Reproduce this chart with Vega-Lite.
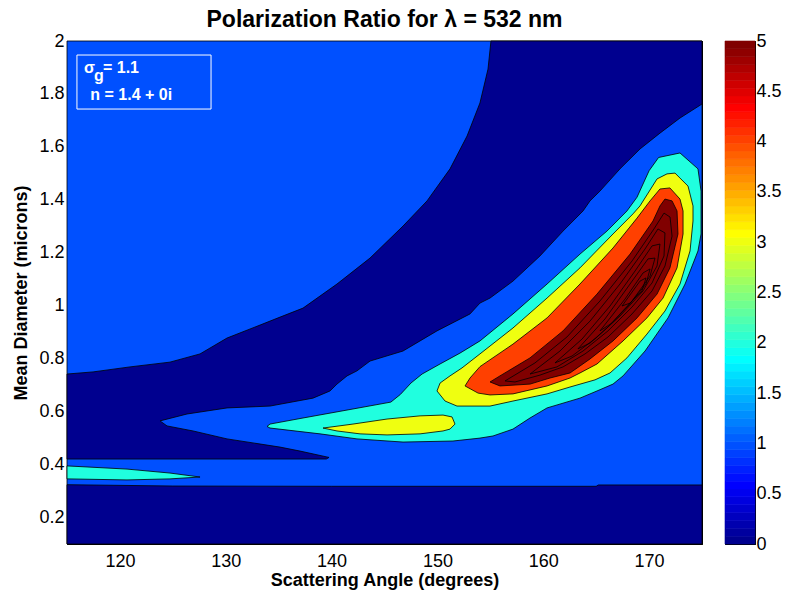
{
  "$schema": "https://vega.github.io/schema/vega-lite/v6.json",
  "background": "white",
  "padding": {"left": 12, "top": 8, "right": 0, "bottom": 0},
  "config": {
    "view": {"stroke": "black", "strokeWidth": 1},
    "font": "Liberation Sans",
    "axis": {
      "grid": false, "domainColor": "black", "tickColor": "black", "labelColor": "black", "titleColor": "black",
      "labelFont": "Liberation Sans", "titleFont": "Liberation Sans", "labelFontSize": 18, "titleFontSize": 18,
      "titleFontWeight": "bold", "tickSize": -6, "tickWidth": 1, "domainWidth": 1, "labelOverlap": false, "minExtent": 0
    }
  },
  "datasets": {
    "contours": [
      {"p":"bg","k":0,"a":115,"d":0.1,"lev":1},{"p":"bg","k":1,"a":175,"d":0.1,"lev":1},{"p":"bg","k":2,"a":175,"d":2,"lev":1},{"p":"bg","k":3,"a":115,"d":2,"lev":1},

      {"p":"nb","k":0,"a":115,"d":0.1,"lev":0},{"p":"nb","k":1,"a":175,"d":0.1,"lev":0},{"p":"nb","k":2,"a":175,"d":0.323,"lev":0},{"p":"nb","k":3,"a":165.2,"d":0.323,"lev":0},{"p":"nb","k":4,"a":165.0,"d":0.318,"lev":0},{"p":"nb","k":5,"a":140,"d":0.318,"lev":0},{"p":"nb","k":6,"a":125,"d":0.319,"lev":0},{"p":"nb","k":7,"a":115,"d":0.324,"lev":0},

      {"p":"nv","k":0,"a":115,"d":0.742,"lev":0},{"p":"nv","k":1,"a":117.46,"d":0.75,"lev":0},{"p":"nv","k":2,"a":120.95,"d":0.769,"lev":0},{"p":"nv","k":3,"a":124.73,"d":0.787,"lev":0},{"p":"nv","k":4,"a":127.57,"d":0.818,"lev":0},{"p":"nv","k":5,"a":130.12,"d":0.878,"lev":0},{"p":"nv","k":6,"a":133.24,"d":0.927,"lev":0},{"p":"nv","k":7,"a":135.13,"d":0.957,"lev":0},{"p":"nv","k":8,"a":137.3,"d":0.991,"lev":0},{"p":"nv","k":9,"a":140.51,"d":1.082,"lev":0},{"p":"nv","k":10,"a":143.63,"d":1.18,"lev":0},{"p":"nv","k":11,"a":146.75,"d":1.301,"lev":0},{"p":"nv","k":12,"a":149.02,"d":1.396,"lev":0},{"p":"nv","k":13,"a":151.19,"d":1.517,"lev":0},{"p":"nv","k":14,"a":152.8,"d":1.641,"lev":0},{"p":"nv","k":15,"a":154.02,"d":1.766,"lev":0},{"p":"nv","k":16,"a":154.78,"d":1.894,"lev":0},{"p":"nv","k":17,"a":155.06,"d":2.0,"lev":0},{"p":"nv","k":18,"a":175,"d":2.0,"lev":0},{"p":"nv","k":19,"a":175,"d":1.762,"lev":0},{"p":"nv","k":20,"a":172.92,"d":1.709,"lev":0},{"p":"nv","k":21,"a":171.03,"d":1.652,"lev":0},{"p":"nv","k":22,"a":169.14,"d":1.592,"lev":0},{"p":"nv","k":23,"a":167.25,"d":1.517,"lev":0},{"p":"nv","k":24,"a":165.36,"d":1.433,"lev":0},{"p":"nv","k":25,"a":164.42,"d":1.396,"lev":0},{"p":"nv","k":26,"a":163.76,"d":1.358,"lev":0},{"p":"nv","k":27,"a":161.87,"d":1.282,"lev":0},{"p":"nv","k":28,"a":159.69,"d":1.188,"lev":0},{"p":"nv","k":29,"a":157.14,"d":1.093,"lev":0},{"p":"nv","k":30,"a":154.97,"d":1.029,"lev":0},{"p":"nv","k":31,"a":154.02,"d":1.01,"lev":0},{"p":"nv","k":32,"a":153.08,"d":0.969,"lev":0},{"p":"nv","k":33,"a":149.96,"d":0.905,"lev":0},{"p":"nv","k":34,"a":146.75,"d":0.829,"lev":0},{"p":"nv","k":35,"a":143.63,"d":0.791,"lev":0},{"p":"nv","k":36,"a":142.4,"d":0.754,"lev":0},{"p":"nv","k":37,"a":141.46,"d":0.735,"lev":0},{"p":"nv","k":38,"a":140.51,"d":0.704,"lev":0},{"p":"nv","k":39,"a":139.85,"d":0.678,"lev":0},{"p":"nv","k":40,"a":138.24,"d":0.651,"lev":0},{"p":"nv","k":41,"a":134.18,"d":0.621,"lev":0},{"p":"nv","k":42,"a":130.12,"d":0.614,"lev":0},{"p":"nv","k":43,"a":126.34,"d":0.591,"lev":0},{"p":"nv","k":44,"a":123.79,"d":0.565,"lev":0},{"p":"nv","k":45,"a":124.45,"d":0.546,"lev":0},{"p":"nv","k":46,"a":126.91,"d":0.527,"lev":0},{"p":"nv","k":47,"a":130.12,"d":0.497,"lev":0},{"p":"nv","k":48,"a":135.13,"d":0.466,"lev":0},{"p":"nv","k":49,"a":137.02,"d":0.451,"lev":0},{"p":"nv","k":50,"a":139.76,"d":0.427,"lev":0},{"p":"nv","k":51,"a":139.5,"d":0.421,"lev":0},{"p":"nv","k":52,"a":115,"d":0.421,"lev":0},

      {"p":"cs","k":0,"a":115,"d":0.395,"lev":2},{"p":"cs","k":1,"a":120.67,"d":0.383,"lev":2},{"p":"cs","k":2,"a":124.73,"d":0.368,"lev":2},{"p":"cs","k":3,"a":127.57,"d":0.353,"lev":2},{"p":"cs","k":4,"a":124.73,"d":0.346,"lev":2},{"p":"cs","k":5,"a":120.67,"d":0.342,"lev":2},{"p":"cs","k":6,"a":115,"d":0.346,"lev":2},

      {"p":"cm","k":0,"a":133.9,"d":0.544,"lev":2},{"p":"cm","k":1,"a":134.18,"d":0.553,"lev":2},{"p":"cm","k":2,"a":137.3,"d":0.576,"lev":2},{"p":"cm","k":3,"a":142.02,"d":0.61,"lev":2},{"p":"cm","k":4,"a":145.6,"d":0.636,"lev":2},{"p":"cm","k":5,"a":146.5,"d":0.665,"lev":2},{"p":"cm","k":6,"a":147.5,"d":0.708,"lev":2},{"p":"cm","k":7,"a":148.55,"d":0.742,"lev":2},{"p":"cm","k":8,"a":150.25,"d":0.78,"lev":2},{"p":"cm","k":9,"a":152.13,"d":0.821,"lev":2},{"p":"cm","k":10,"a":154.02,"d":0.867,"lev":2},{"p":"cm","k":11,"a":157.14,"d":0.969,"lev":2},{"p":"cm","k":12,"a":160.36,"d":1.082,"lev":2},{"p":"cm","k":13,"a":163.47,"d":1.195,"lev":2},{"p":"cm","k":14,"a":166.02,"d":1.282,"lev":2},{"p":"cm","k":15,"a":167.91,"d":1.358,"lev":2},{"p":"cm","k":16,"a":168.86,"d":1.41,"lev":2},{"p":"cm","k":17,"a":170.0,"d":1.51,"lev":2},{"p":"cm","k":18,"a":170.9,"d":1.56,"lev":2},{"p":"cm","k":19,"a":172.92,"d":1.577,"lev":2},{"p":"cm","k":20,"a":174.62,"d":1.517,"lev":2},{"p":"cm","k":21,"a":174.91,"d":1.433,"lev":2},{"p":"cm","k":22,"a":174.91,"d":1.271,"lev":2},{"p":"cm","k":23,"a":174.62,"d":1.207,"lev":2},{"p":"cm","k":24,"a":173.4,"d":1.082,"lev":2},{"p":"cm","k":25,"a":171.79,"d":0.954,"lev":2},{"p":"cm","k":26,"a":169.62,"d":0.829,"lev":2},{"p":"cm","k":27,"a":167.54,"d":0.735,"lev":2},{"p":"cm","k":28,"a":166.59,"d":0.704,"lev":2},{"p":"cm","k":29,"a":165.08,"d":0.678,"lev":2},{"p":"cm","k":30,"a":163.47,"d":0.651,"lev":2},{"p":"cm","k":31,"a":160.36,"d":0.614,"lev":2},{"p":"cm","k":32,"a":158.75,"d":0.576,"lev":2},{"p":"cm","k":33,"a":157.14,"d":0.534,"lev":2},{"p":"cm","k":34,"a":155.25,"d":0.508,"lev":2},{"p":"cm","k":35,"a":154.02,"d":0.5,"lev":2},{"p":"cm","k":36,"a":151.47,"d":0.489,"lev":2},{"p":"cm","k":37,"a":146.75,"d":0.485,"lev":2},{"p":"cm","k":38,"a":142.4,"d":0.497,"lev":2},{"p":"cm","k":39,"a":138.91,"d":0.516,"lev":2},{"p":"cm","k":40,"a":134.18,"d":0.538,"lev":2},

      {"p":"yi","k":0,"a":139.19,"d":0.538,"lev":3},{"p":"yi","k":1,"a":142.02,"d":0.553,"lev":3},{"p":"yi","k":2,"a":145.24,"d":0.572,"lev":3},{"p":"yi","k":3,"a":148.36,"d":0.584,"lev":3},{"p":"yi","k":4,"a":150.53,"d":0.587,"lev":3},{"p":"yi","k":5,"a":151.38,"d":0.58,"lev":3},{"p":"yi","k":6,"a":151.66,"d":0.553,"lev":3},{"p":"yi","k":7,"a":151.19,"d":0.534,"lev":3},{"p":"yi","k":8,"a":150.53,"d":0.527,"lev":3},{"p":"yi","k":9,"a":148.36,"d":0.516,"lev":3},{"p":"yi","k":10,"a":145.24,"d":0.512,"lev":3},{"p":"yi","k":11,"a":142.69,"d":0.516,"lev":3},{"p":"yi","k":12,"a":140.51,"d":0.527,"lev":3},

      {"p":"ym","k":0,"a":149.96,"d":0.678,"lev":3},{"p":"ym","k":1,"a":150.25,"d":0.708,"lev":3},{"p":"ym","k":2,"a":151.19,"d":0.735,"lev":3},{"p":"ym","k":3,"a":152.32,"d":0.765,"lev":3},{"p":"ym","k":4,"a":154.02,"d":0.818,"lev":3},{"p":"ym","k":5,"a":157.14,"d":0.916,"lev":3},{"p":"ym","k":6,"a":160.36,"d":1.029,"lev":3},{"p":"ym","k":7,"a":163.47,"d":1.143,"lev":3},{"p":"ym","k":8,"a":166.59,"d":1.271,"lev":3},{"p":"ym","k":9,"a":168.48,"d":1.347,"lev":3},{"p":"ym","k":10,"a":169.14,"d":1.377,"lev":3},{"p":"ym","k":11,"a":170.75,"d":1.479,"lev":3},{"p":"ym","k":12,"a":171.69,"d":1.498,"lev":3},{"p":"ym","k":13,"a":172.45,"d":1.501,"lev":3},{"p":"ym","k":14,"a":173.68,"d":1.452,"lev":3},{"p":"ym","k":15,"a":174.15,"d":1.377,"lev":3},{"p":"ym","k":16,"a":174.15,"d":1.32,"lev":3},{"p":"ym","k":17,"a":173.87,"d":1.207,"lev":3},{"p":"ym","k":18,"a":172.92,"d":1.082,"lev":3},{"p":"ym","k":19,"a":171.5,"d":0.98,"lev":3},{"p":"ym","k":20,"a":169.8,"d":0.893,"lev":3},{"p":"ym","k":21,"a":167.91,"d":0.803,"lev":3},{"p":"ym","k":22,"a":166.31,"d":0.746,"lev":3},{"p":"ym","k":23,"a":164.89,"d":0.72,"lev":3},{"p":"ym","k":24,"a":162.53,"d":0.693,"lev":3},{"p":"ym","k":25,"a":160.36,"d":0.667,"lev":3},{"p":"ym","k":26,"a":157.14,"d":0.64,"lev":3},{"p":"ym","k":27,"a":154.97,"d":0.621,"lev":3},{"p":"ym","k":28,"a":151.85,"d":0.621,"lev":3},{"p":"ym","k":29,"a":150.72,"d":0.64,"lev":3},

      {"p":"or","k":0,"a":152.61,"d":0.697,"lev":4},{"p":"or","k":1,"a":153.08,"d":0.727,"lev":4},{"p":"or","k":2,"a":154.02,"d":0.77,"lev":4},{"p":"or","k":3,"a":157.14,"d":0.855,"lev":4},{"p":"or","k":4,"a":160.36,"d":0.954,"lev":4},{"p":"or","k":5,"a":163.47,"d":1.082,"lev":4},{"p":"or","k":6,"a":166.59,"d":1.218,"lev":4},{"p":"or","k":7,"a":168.86,"d":1.331,"lev":4},{"p":"or","k":8,"a":170.09,"d":1.396,"lev":4},{"p":"or","k":9,"a":171.03,"d":1.441,"lev":4},{"p":"or","k":10,"a":171.97,"d":1.445,"lev":4},{"p":"or","k":11,"a":172.92,"d":1.403,"lev":4},{"p":"or","k":12,"a":173.21,"d":1.358,"lev":4},{"p":"or","k":13,"a":173.21,"d":1.271,"lev":4},{"p":"or","k":14,"a":172.64,"d":1.143,"lev":4},{"p":"or","k":15,"a":171.32,"d":1.029,"lev":4},{"p":"or","k":16,"a":169.8,"d":0.954,"lev":4},{"p":"or","k":17,"a":167.54,"d":0.867,"lev":4},{"p":"or","k":18,"a":165.08,"d":0.78,"lev":4},{"p":"or","k":19,"a":163.47,"d":0.746,"lev":4},{"p":"or","k":20,"a":162.53,"d":0.727,"lev":4},{"p":"or","k":21,"a":160.36,"d":0.697,"lev":4},{"p":"or","k":22,"a":157.14,"d":0.667,"lev":4},{"p":"or","k":23,"a":154.97,"d":0.663,"lev":4},{"p":"or","k":24,"a":153.84,"d":0.67,"lev":4},

      {"p":"r5","k":0,"a":154.97,"d":0.712,"lev":5},{"p":"r5","k":1,"a":155.91,"d":0.735,"lev":5},{"p":"r5","k":2,"a":158.75,"d":0.803,"lev":5},{"p":"r5","k":3,"a":161.87,"d":0.905,"lev":5},{"p":"r5","k":4,"a":165.08,"d":1.044,"lev":5},{"p":"r5","k":5,"a":168.2,"d":1.195,"lev":5},{"p":"r5","k":6,"a":170.37,"d":1.32,"lev":5},{"p":"r5","k":7,"a":171.03,"d":1.377,"lev":5},{"p":"r5","k":8,"a":171.5,"d":1.403,"lev":5},{"p":"r5","k":9,"a":172.17,"d":1.396,"lev":5},{"p":"r5","k":10,"a":172.64,"d":1.358,"lev":5},{"p":"r5","k":11,"a":172.73,"d":1.271,"lev":5},{"p":"r5","k":12,"a":171.97,"d":1.143,"lev":5},{"p":"r5","k":13,"a":170.75,"d":1.044,"lev":5},{"p":"r5","k":14,"a":168.86,"d":0.954,"lev":5},{"p":"r5","k":15,"a":166.59,"d":0.867,"lev":5},{"p":"r5","k":16,"a":164.42,"d":0.799,"lev":5},{"p":"r5","k":17,"a":162.53,"d":0.746,"lev":5},{"p":"r5","k":18,"a":160.64,"d":0.727,"lev":5},{"p":"r5","k":19,"a":158.75,"d":0.704,"lev":5},{"p":"r5","k":20,"a":155.91,"d":0.697,"lev":5},

      {"p":"r6","k":0,"a":156.39,"d":0.716,"lev":6},{"p":"r6","k":1,"a":159.22,"d":0.784,"lev":6},{"p":"r6","k":2,"a":162.24,"d":0.882,"lev":6},{"p":"r6","k":3,"a":165.36,"d":1.018,"lev":6},{"p":"r6","k":4,"a":168.39,"d":1.169,"lev":6},{"p":"r6","k":5,"a":170.46,"d":1.29,"lev":6},{"p":"r6","k":6,"a":171.41,"d":1.35,"lev":6},{"p":"r6","k":7,"a":171.98,"d":1.335,"lev":6},{"p":"r6","k":8,"a":172.17,"d":1.263,"lev":6},{"p":"r6","k":9,"a":171.5,"d":1.15,"lev":6},{"p":"r6","k":10,"a":170.28,"d":1.056,"lev":6},{"p":"r6","k":11,"a":168.39,"d":0.969,"lev":6},{"p":"r6","k":12,"a":166.12,"d":0.882,"lev":6},{"p":"r6","k":13,"a":163.95,"d":0.818,"lev":6},{"p":"r6","k":14,"a":161.87,"d":0.769,"lev":6},{"p":"r6","k":15,"a":159.69,"d":0.738,"lev":6},{"p":"r6","k":16,"a":157.33,"d":0.712,"lev":6},

      {"p":"r7","k":0,"a":158.75,"d":0.742,"lev":7},{"p":"r7","k":1,"a":161.58,"d":0.829,"lev":7},{"p":"r7","k":2,"a":164.42,"d":0.942,"lev":7},{"p":"r7","k":3,"a":167.25,"d":1.082,"lev":7},{"p":"r7","k":4,"a":169.61,"d":1.214,"lev":7},{"p":"r7","k":5,"a":170.84,"d":1.29,"lev":7},{"p":"r7","k":6,"a":171.5,"d":1.275,"lev":7},{"p":"r7","k":7,"a":171.41,"d":1.188,"lev":7},{"p":"r7","k":8,"a":170.28,"d":1.086,"lev":7},{"p":"r7","k":9,"a":168.39,"d":0.995,"lev":7},{"p":"r7","k":10,"a":166.12,"d":0.905,"lev":7},{"p":"r7","k":11,"a":163.76,"d":0.829,"lev":7},{"p":"r7","k":12,"a":161.3,"d":0.769,"lev":7},

      {"p":"r8","k":0,"a":161.11,"d":0.784,"lev":8},{"p":"r8","k":1,"a":163.66,"d":0.874,"lev":8},{"p":"r8","k":2,"a":166.31,"d":0.999,"lev":8},{"p":"r8","k":3,"a":168.67,"d":1.131,"lev":8},{"p":"r8","k":4,"a":170.28,"d":1.226,"lev":8},{"p":"r8","k":5,"a":171.03,"d":1.233,"lev":8},{"p":"r8","k":6,"a":170.75,"d":1.15,"lev":8},{"p":"r8","k":7,"a":169.43,"d":1.056,"lev":8},{"p":"r8","k":8,"a":167.25,"d":0.961,"lev":8},{"p":"r8","k":9,"a":164.98,"d":0.878,"lev":8},{"p":"r8","k":10,"a":162.72,"d":0.81,"lev":8},

      {"p":"r9","k":0,"a":163.28,"d":0.837,"lev":9},{"p":"r9","k":1,"a":165.83,"d":0.95,"lev":9},{"p":"r9","k":2,"a":168.2,"d":1.082,"lev":9},{"p":"r9","k":3,"a":169.9,"d":1.177,"lev":9},{"p":"r9","k":4,"a":170.56,"d":1.18,"lev":9},{"p":"r9","k":5,"a":170.09,"d":1.112,"lev":9},{"p":"r9","k":6,"a":168.39,"d":1.018,"lev":9},{"p":"r9","k":7,"a":166.12,"d":0.92,"lev":9},{"p":"r9","k":8,"a":164.42,"d":0.859,"lev":9},

      {"p":"r10","k":0,"a":165.36,"d":0.905,"lev":10},{"p":"r10","k":1,"a":167.72,"d":1.025,"lev":10},{"p":"r10","k":2,"a":169.43,"d":1.124,"lev":10},{"p":"r10","k":3,"a":170.09,"d":1.139,"lev":10},{"p":"r10","k":4,"a":169.71,"d":1.082,"lev":10},{"p":"r10","k":5,"a":168.01,"d":0.999,"lev":10},{"p":"r10","k":6,"a":166.5,"d":0.935,"lev":10},

      {"p":"r11","k":0,"a":167.44,"d":0.999,"lev":11},{"p":"r11","k":1,"a":169.14,"d":1.093,"lev":11},{"p":"r11","k":2,"a":169.71,"d":1.105,"lev":11},{"p":"r11","k":3,"a":169.33,"d":1.056,"lev":11},{"p":"r11","k":4,"a":168.2,"d":1.01,"lev":11}
    ],
    "box": [{"a": 115.94, "a2": 128.61, "d": 1.947, "d2": 1.743}],
    "notes": [
      {"a": 116.6, "d": 1.879, "txt": "σ"},
      {"a": 118.4, "d": 1.879, "txt": "= 1.1"},
      {"a": 117.2, "d": 1.777, "txt": "n = 1.4 + 0i"}
    ],
    "subs": [{"a": 117.55, "d": 1.85, "txt": "g"}],
    "cbar": [
      {"lo":0,"hi":0.078125},{"lo":0.078125,"hi":0.15625},{"lo":0.15625,"hi":0.234375},{"lo":0.234375,"hi":0.3125},{"lo":0.3125,"hi":0.390625},{"lo":0.390625,"hi":0.46875},{"lo":0.46875,"hi":0.546875},{"lo":0.546875,"hi":0.625},
      {"lo":0.625,"hi":0.703125},{"lo":0.703125,"hi":0.78125},{"lo":0.78125,"hi":0.859375},{"lo":0.859375,"hi":0.9375},{"lo":0.9375,"hi":1.015625},{"lo":1.015625,"hi":1.09375},{"lo":1.09375,"hi":1.171875},{"lo":1.171875,"hi":1.25},
      {"lo":1.25,"hi":1.328125},{"lo":1.328125,"hi":1.40625},{"lo":1.40625,"hi":1.484375},{"lo":1.484375,"hi":1.5625},{"lo":1.5625,"hi":1.640625},{"lo":1.640625,"hi":1.71875},{"lo":1.71875,"hi":1.796875},{"lo":1.796875,"hi":1.875},
      {"lo":1.875,"hi":1.953125},{"lo":1.953125,"hi":2.03125},{"lo":2.03125,"hi":2.109375},{"lo":2.109375,"hi":2.1875},{"lo":2.1875,"hi":2.265625},{"lo":2.265625,"hi":2.34375},{"lo":2.34375,"hi":2.421875},{"lo":2.421875,"hi":2.5},
      {"lo":2.5,"hi":2.578125},{"lo":2.578125,"hi":2.65625},{"lo":2.65625,"hi":2.734375},{"lo":2.734375,"hi":2.8125},{"lo":2.8125,"hi":2.890625},{"lo":2.890625,"hi":2.96875},{"lo":2.96875,"hi":3.046875},{"lo":3.046875,"hi":3.125},
      {"lo":3.125,"hi":3.203125},{"lo":3.203125,"hi":3.28125},{"lo":3.28125,"hi":3.359375},{"lo":3.359375,"hi":3.4375},{"lo":3.4375,"hi":3.515625},{"lo":3.515625,"hi":3.59375},{"lo":3.59375,"hi":3.671875},{"lo":3.671875,"hi":3.75},
      {"lo":3.75,"hi":3.828125},{"lo":3.828125,"hi":3.90625},{"lo":3.90625,"hi":3.984375},{"lo":3.984375,"hi":4.0625},{"lo":4.0625,"hi":4.140625},{"lo":4.140625,"hi":4.21875},{"lo":4.21875,"hi":4.296875},{"lo":4.296875,"hi":4.375},
      {"lo":4.375,"hi":4.453125},{"lo":4.453125,"hi":4.53125},{"lo":4.53125,"hi":4.609375},{"lo":4.609375,"hi":4.6875},{"lo":4.6875,"hi":4.765625},{"lo":4.765625,"hi":4.84375},{"lo":4.84375,"hi":4.921875},{"lo":4.921875,"hi":5}
    ]
  },
  "spacing": 19,
  "hconcat": [
    {
      "width": 635,
      "height": 503,
      "title": {"text": "Polarization Ratio for λ = 532 nm", "fontSize": 23, "fontWeight": "bold", "font": "Liberation Sans", "color": "black", "anchor": "middle", "baseline": "alphabetic", "offset": -18},
      "resolve": {"axis": {"x": "independent", "y": "independent"}},
      "layer": [
        {
          "data": {"name": "contours"},
          "encoding": {
            "x": {"field": "a", "type": "quantitative", "scale": {"domain": [115, 175], "nice": false, "zero": false},
                  "axis": {"orient": "bottom", "title": "Scattering Angle (degrees)", "values": [120, 130, 140, 150, 160, 170], "format": "d", "labelPadding": 14, "titlePadding": 1}},
            "y": {"field": "d", "type": "quantitative", "scale": {"domain": [0.1, 2], "nice": false, "zero": false},
                  "axis": {"orient": "left", "title": "Mean Diameter (microns)", "values": [0.2, 0.4, 0.6, 0.8, 1, 1.2, 1.4, 1.6, 1.8, 2], "format": "~g", "labelPadding": 9, "titlePadding": 8}},
            "order": {"field": "k", "type": "quantitative"},
            "detail": {"field": "p", "type": "nominal"},
            "fill": {"field": "lev", "type": "quantitative", "legend": null,
                     "scale": {"type": "quantize", "domain": [0, 5], "range": ["#00008F","#00009F","#0000AF","#0000BF","#0000CF","#0000DF","#0000EF","#0000FF","#0010FF","#0020FF","#0030FF","#0040FF","#0050FF","#0060FF","#0070FF","#0080FF","#008FFF","#009FFF","#00AFFF","#00BFFF","#00CFFF","#00DFFF","#00EFFF","#00FFFF","#10FFEF","#20FFDF","#30FFCF","#40FFBF","#50FFAF","#60FF9F","#70FF8F","#80FF80","#8FFF70","#9FFF60","#AFFF50","#BFFF40","#CFFF30","#DFFF20","#EFFF10","#FFFF00","#FFEF00","#FFDF00","#FFCF00","#FFBF00","#FFAF00","#FF9F00","#FF8F00","#FF8000","#FF7000","#FF6000","#FF5000","#FF4000","#FF3000","#FF2000","#FF1000","#FF0000","#EF0000","#DF0000","#CF0000","#BF0000","#AF0000","#9F0000","#8F0000","#800000"]}}
          },
          "layer": [
            {"transform": [{"filter": "datum.lev == 1"}], "mark": {"type": "line", "interpolate": "linear-closed", "stroke": "black", "strokeWidth": 0.8}},
            {"transform": [{"filter": "datum.lev == 0"}], "mark": {"type": "line", "interpolate": "linear-closed", "stroke": "black", "strokeWidth": 0.8}},
            {"transform": [{"filter": "datum.lev == 2"}], "mark": {"type": "line", "interpolate": "linear-closed", "stroke": "black", "strokeWidth": 0.8}},
            {"transform": [{"filter": "datum.lev == 3"}], "mark": {"type": "line", "interpolate": "linear-closed", "stroke": "black", "strokeWidth": 0.8}},
            {"transform": [{"filter": "datum.lev == 4"}], "mark": {"type": "line", "interpolate": "linear-closed", "stroke": "black", "strokeWidth": 0.8}},
            {"transform": [{"filter": "datum.lev == 5"}], "mark": {"type": "line", "interpolate": "linear-closed", "stroke": "black", "strokeWidth": 0.8}},
            {"transform": [{"filter": "datum.lev >= 6"}], "mark": {"type": "line", "interpolate": "linear-closed", "stroke": "black", "strokeWidth": 0.8, "fillOpacity": 0}}
          ]
        },
        {
          "encoding": {
            "x": {"field": "a", "type": "quantitative", "scale": {"domain": [115, 175], "nice": false, "zero": false},
                  "axis": {"orient": "top", "title": null, "labels": false, "values": [120, 130, 140, 150, 160, 170]}},
            "y": {"field": "d", "type": "quantitative", "scale": {"domain": [0.1, 2], "nice": false, "zero": false},
                  "axis": {"orient": "right", "title": null, "labels": false, "values": [0.2, 0.4, 0.6, 0.8, 1, 1.2, 1.4, 1.6, 1.8, 2]}}
          },
          "layer": [
            {"data": {"name": "box"}, "mark": {"type": "rect", "filled": false, "stroke": "white", "strokeWidth": 1},
             "encoding": {"x2": {"field": "a2"}, "y2": {"field": "d2"}}},
            {"data": {"name": "notes"}, "mark": {"type": "text", "align": "left", "baseline": "alphabetic", "font": "Liberation Sans", "fontSize": 16, "fontWeight": "bold", "color": "white"},
             "encoding": {"text": {"field": "txt"}}},
            {"data": {"name": "subs"}, "mark": {"type": "text", "align": "left", "baseline": "alphabetic", "font": "Liberation Sans", "fontSize": 16, "fontWeight": "bold", "color": "white"},
             "encoding": {"text": {"field": "txt"}}}
          ]
        }
      ]
    },
    {
      "width": 30,
      "height": 503,
      "data": {"name": "cbar"},
      "resolve": {"axis": {"y": "independent"}},
      "layer": [
        {
          "mark": {"type": "rect", "strokeWidth": 0.6},
          "encoding": {
            "x": {"datum": 0, "type": "quantitative", "scale": {"domain": [0, 1], "nice": false, "zero": false}, "axis": null},
            "x2": {"datum": 1},
            "y": {"field": "lo", "type": "quantitative", "scale": {"domain": [0, 5], "nice": false, "zero": false},
                  "axis": {"orient": "right", "title": null, "values": [0, 0.5, 1, 1.5, 2, 2.5, 3, 3.5, 4, 4.5, 5], "format": "~g", "tickSize": -5, "labelPadding": 6}},
            "y2": {"field": "hi"},
            "fill": {"field": "lo", "type": "quantitative", "legend": null,
                     "scale": {"type": "quantize", "domain": [0, 5], "range": ["#00008F","#00009F","#0000AF","#0000BF","#0000CF","#0000DF","#0000EF","#0000FF","#0010FF","#0020FF","#0030FF","#0040FF","#0050FF","#0060FF","#0070FF","#0080FF","#008FFF","#009FFF","#00AFFF","#00BFFF","#00CFFF","#00DFFF","#00EFFF","#00FFFF","#10FFEF","#20FFDF","#30FFCF","#40FFBF","#50FFAF","#60FF9F","#70FF8F","#80FF80","#8FFF70","#9FFF60","#AFFF50","#BFFF40","#CFFF30","#DFFF20","#EFFF10","#FFFF00","#FFEF00","#FFDF00","#FFCF00","#FFBF00","#FFAF00","#FF9F00","#FF8F00","#FF8000","#FF7000","#FF6000","#FF5000","#FF4000","#FF3000","#FF2000","#FF1000","#FF0000","#EF0000","#DF0000","#CF0000","#BF0000","#AF0000","#9F0000","#8F0000","#800000"]}},
            "stroke": {"field": "lo", "type": "quantitative", "legend": null,
                     "scale": {"type": "quantize", "domain": [0, 5], "range": ["#00008F","#00009F","#0000AF","#0000BF","#0000CF","#0000DF","#0000EF","#0000FF","#0010FF","#0020FF","#0030FF","#0040FF","#0050FF","#0060FF","#0070FF","#0080FF","#008FFF","#009FFF","#00AFFF","#00BFFF","#00CFFF","#00DFFF","#00EFFF","#00FFFF","#10FFEF","#20FFDF","#30FFCF","#40FFBF","#50FFAF","#60FF9F","#70FF8F","#80FF80","#8FFF70","#9FFF60","#AFFF50","#BFFF40","#CFFF30","#DFFF20","#EFFF10","#FFFF00","#FFEF00","#FFDF00","#FFCF00","#FFBF00","#FFAF00","#FF9F00","#FF8F00","#FF8000","#FF7000","#FF6000","#FF5000","#FF4000","#FF3000","#FF2000","#FF1000","#FF0000","#EF0000","#DF0000","#CF0000","#BF0000","#AF0000","#9F0000","#8F0000","#800000"]}}
          }
        },
        {
          "mark": {"type": "rect", "opacity": 0},
          "encoding": {
            "x": {"datum": 0, "type": "quantitative", "scale": {"domain": [0, 1], "nice": false, "zero": false}, "axis": null},
            "x2": {"datum": 1},
            "y": {"field": "lo", "type": "quantitative", "scale": {"domain": [0, 5], "nice": false, "zero": false},
                  "axis": {"orient": "left", "title": null, "labels": false, "values": [0, 0.5, 1, 1.5, 2, 2.5, 3, 3.5, 4, 4.5, 5], "tickSize": -5}},
            "y2": {"field": "hi"}
          }
        }
      ]
    }
  ]
}
